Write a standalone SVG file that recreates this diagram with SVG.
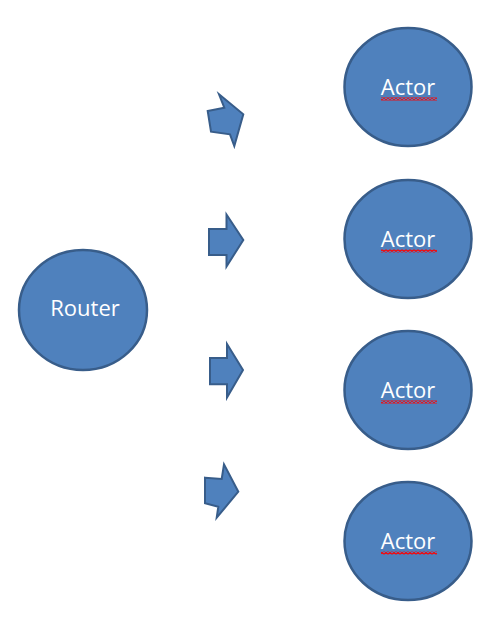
<svg xmlns="http://www.w3.org/2000/svg" width="490" height="623" viewBox="0 0 490 623">
<defs>
<style>
.node{fill:#4F81BD;stroke:#385D8A;stroke-width:2.5}
.arrow{fill:#4F81BD;stroke:#385D8A;stroke-width:2;stroke-linejoin:miter}
.lbl{font-family:"Open Sans","Liberation Sans",sans-serif;font-size:22px;fill:#FFFFFF;text-anchor:middle}
</style>
<pattern id="squig" patternUnits="userSpaceOnUse" width="4" height="3">
<path d="M0,2.5 L2,0.5 L4,2.5" fill="none" stroke="#FF0000" stroke-width="1.3"/>
</pattern>
</defs>
<rect x="0" y="0" width="490" height="623" fill="#FFFFFF"/>
<g id="router">
<ellipse class="node" cx="83" cy="310" rx="64" ry="60"/>
<text class="lbl" x="85" y="316">Router</text>
</g>
<g id="actor1">
<ellipse class="node" cx="408" cy="87" rx="63.5" ry="59"/>
<text class="lbl" x="408" y="95">Actor</text>
<rect x="381" y="97.5" width="56" height="3" fill="url(#squig)"/>
</g>
<g id="actor2">
<ellipse class="node" cx="408" cy="239" rx="63.5" ry="59"/>
<text class="lbl" x="408" y="247">Actor</text>
<rect x="381" y="249.5" width="56" height="3" fill="url(#squig)"/>
</g>
<g id="actor3">
<ellipse class="node" cx="408" cy="390" rx="63.5" ry="59"/>
<text class="lbl" x="408" y="398">Actor</text>
<rect x="381" y="400.5" width="56" height="3" fill="url(#squig)"/>
</g>
<g id="actor4">
<ellipse class="node" cx="408" cy="541" rx="63.5" ry="59"/>
<text class="lbl" x="408" y="549">Actor</text>
<rect x="381" y="551.5" width="56" height="3" fill="url(#squig)"/>
</g>
<g id="connectors">
<polygon class="arrow" points="207.7,111 224.3,107.7 219,94.3 243.3,114.3 234.3,146 230,134.3 211,131.7"/>
<polygon class="arrow" points="209,229 226.5,229 226.5,214.5 243.3,240 226.5,266.5 226.5,255 209,255"/>
<polygon class="arrow" points="210,358 227,358 227,344 243,370 227,397.5 227,384.3 210,384.3"/>
<polygon class="arrow" points="205,477.7 221.7,479 224,464.3 238.3,491.7 216.7,517.7 218.3,506.7 205,503.3"/>
</g>
</svg>
